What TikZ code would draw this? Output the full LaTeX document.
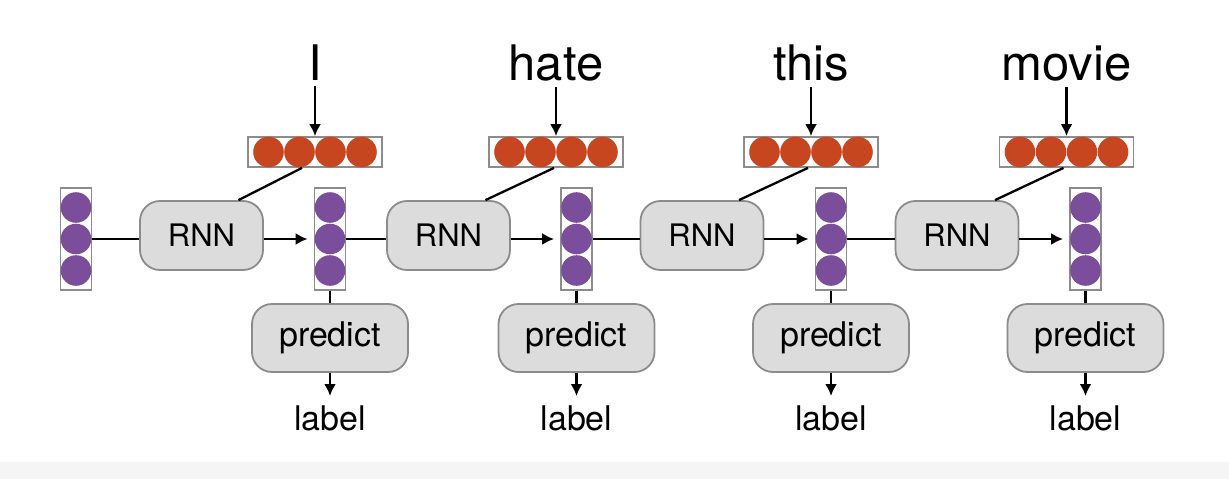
\documentclass[tikz,border=0pt]{standalone}
\usepackage{fontspec}
\setmainfont{TeX Gyre Heros}
\usetikzlibrary{arrows.meta}
\definecolor{embred}{HTML}{C8461F}
\definecolor{hidpur}{HTML}{7B4E9C}
\definecolor{boxfill}{HTML}{DCDCDC}
\definecolor{boxline}{HTML}{8C8C8C}
\definecolor{band}{HTML}{F5F5F5}
\begin{document}
\begin{tikzpicture}[x=1pt,y=-1pt,
  conn/.style={line width=2.3pt,black},
  arr/.style={conn,-{Latex[length=12pt,width=12pt]}},
  embbox/.style={rectangle,draw=boxline,fill=white,line width=1.8pt,minimum width=134pt,minimum height=30pt,inner sep=0pt},
  hidbox/.style={rectangle,draw=boxline,fill=white,line width=1.8pt,minimum width=31pt,minimum height=102pt,inner sep=0pt},
  rnnbox/.style={rectangle,rounded corners=20pt,draw=boxline,fill=boxfill,line width=1.8pt,minimum width=123pt,minimum height=69pt,inner sep=0pt,font=\fontsize{31}{34}\selectfont},
  predbox/.style={rectangle,rounded corners=20pt,draw=boxline,fill=boxfill,line width=1.8pt,minimum width=156pt,minimum height=68pt,inner sep=0pt,font=\fontsize{34}{38}\selectfont},
  word/.style={anchor=base,inner sep=3pt,font=\fontsize{49}{52}\selectfont},
  lab/.style={anchor=base,inner sep=0pt,font=\fontsize{34}{38}\selectfont},
]
\useasboundingbox (0,0) rectangle (1229,479);
\fill[band] (0,462) rectangle (1229,479);

% embedding boxes
\node[embbox] (e1) at (315,152) {};
\node[embbox] (e2) at (556,152) {};
\node[embbox] (e3) at (811,152) {};
\node[embbox] (e4) at (1066.5,152) {};
\foreach \e in {e1,e2,e3,e4}{
  \foreach \dx in {-46.5,-15.5,15.5,46.5}{
    \fill[embred] (\e.center) ++(\dx,0) circle[radius=15.3pt];
  }
}

% hidden columns
\node[hidbox] (c1) at (76,239) {};
\node[hidbox] (c2) at (330,239) {};
\node[hidbox] (c3) at (576.5,239) {};
\node[hidbox] (c4) at (831,239) {};
\node[hidbox] (c5) at (1085.5,239) {};
\foreach \c in {c1,c2,c3,c4,c5}{
  \foreach \dy in {-31.5,0,31.5}{
    \fill[hidpur] (\c.center) ++(0,\dy) circle[radius=15.3pt];
  }
}

% RNN boxes
\node[rnnbox] (r1) at (201.5,235.5) {RNN};
\node[rnnbox] (r2) at (448.5,235.5) {RNN};
\node[rnnbox] (r3) at (702,235.5) {RNN};
\node[rnnbox] (r4) at (957,235.5) {RNN};

% predict boxes
\node[predbox] (p2) at (330,338) {predict};
\node[predbox] (p3) at (576.5,338) {predict};
\node[predbox] (p4) at (831,338) {predict};
\node[predbox] (p5) at (1085.5,338) {predict};

% labels
\node[lab] (l2) at (330,430) {label};
\node[lab] (l3) at (576.5,430) {label};
\node[lab] (l4) at (831,430) {label};
\node[lab] (l5) at (1085.5,430) {label};

% words
\node[word] (w1) at (315,80) {I};
\node[word] (w2) at (556,80) {hate};
\node[word] (w3) at (811,80) {this};
\node[word] (w4) at (1066.5,80) {movie};

% word -> embedding
\foreach \i in {1,2,3,4}{
  \draw[arr,shorten <=3pt] (w\i.south) -- (e\i.north);
}

% embedding -> RNN
\draw[conn] (e1.south) ++(-13,0) coordinate (d1) -- ([xshift=37pt]r1.north);
\draw[conn] (e2.south) ++(-2,0) coordinate (d2) -- ([xshift=37pt]r2.north);
\draw[conn] (e3.south) ++(-3,0) coordinate (d3) -- ([xshift=37pt]r3.north);
\draw[conn] (e4.south) ++(-3,0) coordinate (d4) -- ([xshift=38pt]r4.north);

% hidden -> RNN (plain lines)
\draw[conn] (c1.east) -- (c1.east -| r1.west);
\draw[conn] (c2.east) -- (c2.east -| r2.west);
\draw[conn] (c3.east) -- (c3.east -| r3.west);
\draw[conn] (c4.east) -- (c4.east -| r4.west);

% RNN -> hidden (arrows)
\draw[arr,shorten >=6pt] (r1.east |- c2.west) -- (c2.west);
\draw[arr,shorten >=6pt] (r2.east |- c3.west) -- (c3.west);
\draw[arr,shorten >=6pt] (r3.east |- c4.west) -- (c4.west);
\draw[arr,shorten >=6pt] (r4.east |- c5.west) -- (c5.west);

% hidden -> predict -> label
\foreach \i in {2,3,4,5}{
  \draw[conn] (c\i.south) -- (p\i.north);
  \draw[arr,shorten >=9pt] (p\i.south) -- (l\i.north);
}
\end{tikzpicture}
\end{document}
